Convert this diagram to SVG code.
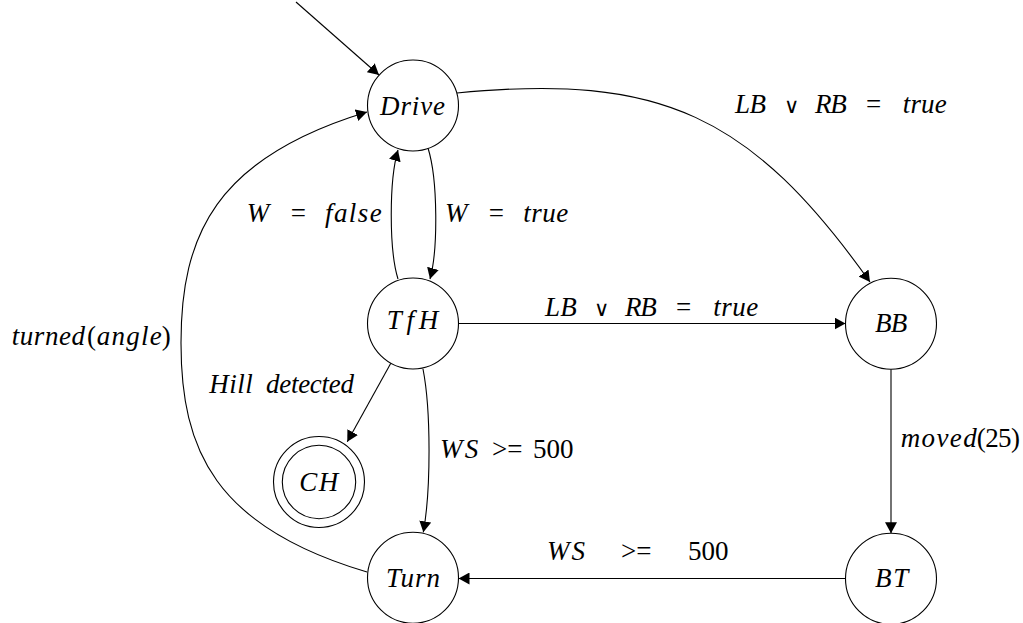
<svg xmlns="http://www.w3.org/2000/svg" width="1023" height="623" viewBox="0 0 1023 623">
  <defs>
    <marker id="arrow" viewBox="0 0 11 12" refX="11" refY="6" markerWidth="11" markerHeight="12" markerUnits="userSpaceOnUse" orient="auto">
      <path d="M0,0 L11,6 L0,12 z" fill="#000"/>
    </marker>
    <style>
      .state { fill: #fff; stroke: #000; stroke-width: 1.1; }
      .edge { fill: none; stroke: #000; stroke-width: 1.1; marker-end: url(#arrow); }
      text { font-family: "Liberation Serif", "Times New Roman", serif; font-size: 27px; font-style: italic; fill: #000; }
      .up { font-style: normal; }
      .or { font-style: normal; font-family: "DejaVu Serif", serif; font-size: 21px; }
    </style>
  </defs>
  <rect width="1023" height="623" fill="#fff"/>

  <!-- transitions -->
  <g id="connectors">
    <path class="edge" d="M296,2 L379,75"/>
    <path class="edge" d="M457,93 C661,73 751,115 870,282"/>
    <path class="edge" d="M428,148 C438,180 438,250 430,279"/>
    <path class="edge" d="M398,279 C389,250 389,180 398,150"/>
    <path class="edge" d="M458.5,323.5 H845.5"/>
    <path class="edge" d="M390.8,363.2 L347.3,441.7"/>
    <path class="edge" d="M423,369 C431,410 431,490 423.3,532.3"/>
    <path class="edge" d="M891,369.2 V533.3"/>
    <path class="edge" d="M845.5,578.5 H458.5"/>
    <path class="edge" d="M367,572 C215,527 181,450 181,343 C181,236 215,158 367,112"/>
  </g>

  <!-- edge labels -->
  <g id="labels">
    <text y="221.7"><tspan x="246.7">W</tspan><tspan class="up" x="290.7">=</tspan><tspan x="325" textLength="56.7">false</tspan></text>
    <text y="222"><tspan x="445">W</tspan><tspan class="up" x="488.7">=</tspan><tspan x="523.3" textLength="45">true</tspan></text>
    <text y="112.7"><tspan x="735" textLength="31">LB</tspan><tspan class="or" x="784">∨</tspan><tspan x="815" textLength="31.7">RB</tspan><tspan class="up" x="866">=</tspan><tspan x="902.7" textLength="44">true</tspan></text>
    <text y="316"><tspan x="545" textLength="31.7">LB</tspan><tspan class="or" x="594">∨</tspan><tspan x="625" textLength="31.7">RB</tspan><tspan class="up" x="676">=</tspan><tspan x="713.3" textLength="45">true</tspan></text>
    <text y="345"><tspan x="11.7" textLength="73.3">turned</tspan><tspan class="up" x="87">(</tspan><tspan x="96.7" textLength="65">angle</tspan><tspan class="up" x="161.7">)</tspan></text>
    <text y="392.7"><tspan x="209.3" textLength="43.4">Hill</tspan><tspan x="266" textLength="88">detected</tspan></text>
    <text y="458"><tspan x="440" textLength="38.3">WS</tspan><tspan class="up" x="492">&gt;=</tspan><tspan class="up" x="533">500</tspan></text>
    <text y="446.7"><tspan x="900.7" textLength="76">moved</tspan><tspan class="up" x="976.7" textLength="43.3">(25)</tspan></text>
    <text y="560"><tspan x="547" textLength="38">WS</tspan><tspan class="up" x="621">&gt;=</tspan><tspan class="up" x="688">500</tspan></text>
  </g>

  <!-- states -->
  <g id="Drive">
    <circle class="state" cx="413" cy="105.5" r="45.5"/>
    <text x="380" y="115" textLength="65">Drive</text>
  </g>
  <g id="TfH">
    <circle class="state" cx="413" cy="323.5" r="45.5"/>
    <text x="386.7" y="329.3" textLength="51.6">TfH</text>
  </g>
  <g id="BB">
    <circle class="state" cx="891" cy="323.7" r="45.5"/>
    <text x="875" y="331.7" textLength="32.3">BB</text>
  </g>
  <g id="CH">
    <circle class="state" cx="319" cy="482" r="45.5"/>
    <circle class="state" cx="319" cy="482" r="36.7"/>
    <text x="299.3" y="490.7" textLength="39">CH</text>
  </g>
  <g id="Turn">
    <circle class="state" cx="413" cy="577.8" r="45.5"/>
    <text x="386" y="586.7" textLength="54">Turn</text>
  </g>
  <g id="BT">
    <circle class="state" cx="891" cy="578.8" r="45.5"/>
    <text x="875" y="587" textLength="33.3">BT</text>
  </g>
</svg>
